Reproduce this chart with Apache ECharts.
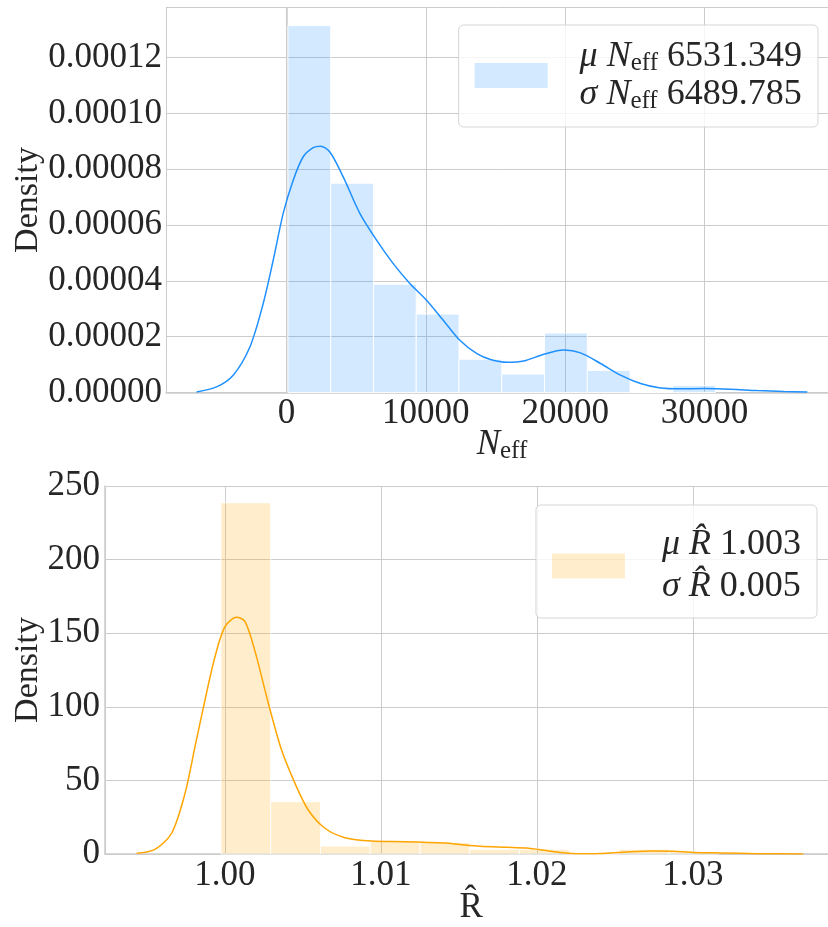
<!DOCTYPE html>
<html><head><meta charset="utf-8">
<script src="https://cdn.jsdelivr.net/npm/echarts@6/dist/echarts.min.js"></script>
<style>html,body{margin:0;padding:0;background:#fff;overflow:hidden}#c{width:828px;height:927px}</style>
</head><body><div id="c"></div>
<script>
// ---------- data ----------
const nEffBinEdges = [100, 3170, 6240, 9310, 12380, 15450, 18520, 21590, 24660, 27730, 30800];
const nEffDensity  = [0.0001315, 0.0000750, 0.0000388, 0.0000281, 0.0000119, 0.0000066, 0.0000213, 0.0000079, 0, 0.0000025];
const nEffKdeX = [-6461, -5025, -3829, -2632, -1675, -957, -239, 479, 1196, 1915, 2441, 3110, 4068, 5263, 6461, 7660, 8852, 10050, 11249, 12441, 13640, 14645, 15843, 17035, 18471, 19907, 21106, 22542, 23977, 25413, 26849, 28285, 29957, 31874, 33790, 35700, 37380];
const nEffKdeY = [0.0000002, 0.000002, 0.0000062, 0.0000163, 0.0000319, 0.0000474, 0.0000642, 0.0000761, 0.0000845, 0.0000878, 0.0000883, 0.0000862, 0.0000773, 0.0000642, 0.0000546, 0.0000462, 0.0000391, 0.0000331, 0.0000259, 0.0000187, 0.0000140, 0.0000118, 0.0000108, 0.0000113, 0.0000137, 0.0000152, 0.0000142, 0.0000104, 0.0000062, 0.0000032, 0.0000016, 0.0000013, 0.0000014, 0.0000012, 0.0000007, 0.0000004, 0.0000002];
const nEffLegendValues = ['6531.349', '6489.785'];

const rHatBinEdges = [0.99974, 1.00293, 1.00612, 1.00931, 1.0125, 1.01569, 1.01888, 1.02207, 1.02526, 1.02845, 1.03164];
const rHatDensity  = [238.6, 35.5, 5.4, 8.5, 7.8, 3.2, 3.2, 0, 3.2, 1.5];
const rHatKdeX = [0.99434, 0.99551, 0.99658, 0.99744, 0.99808, 0.99872, 0.99936, 1.0, 1.00075, 1.00128, 1.00192, 1.00278, 1.00363, 1.00449, 1.00534, 1.00641, 1.00769, 1.0094, 1.01154, 1.0141, 1.01506, 1.01635, 1.01806, 1.01934, 1.02019, 1.02147, 1.02276, 1.02404, 1.02575, 1.02746, 1.02874, 1.03003, 1.03195, 1.03408, 1.03707];
const rHatKdeY = [0.5, 3.2, 14.1, 41.2, 72.9, 104.6, 134, 154.4, 160.8, 158.0, 138.0, 102.4, 70.6, 48, 29.9, 17.5, 11.1, 8.8, 8.4, 7.4, 6.4, 5.2, 4.6, 4.1, 2.9, 1.1, 0.2, 0.4, 1.4, 2.0, 1.8, 1.1, 0.7, 0.2, 0.0];
const rHatLegendValues = ['1.003', '0.005'];

// ---------- styling ----------
const FONT = '"Liberation Serif", "DejaVu Serif", serif';
const TXT = '#262626';
const GRIDC = '#cccccc';
const BLUE = '#1e90ff', BLUE_FILL = 'rgba(30,144,255,0.2)';
const ORANGE = '#ffa500', ORANGE_FILL = 'rgba(255,165,0,0.2)';

function histSeries(name, edges, dens, fill, idx) {
  return {
    type: 'custom', name: name, xAxisIndex: idx, yAxisIndex: idx,
    itemStyle: { color: fill },
    data: dens.map((d, i) => [edges[i], edges[i + 1], d]),
    encode: { x: [0, 1], y: 2 },
    z: 2,
    renderItem: function (params, api) {
      const p0 = api.coord([api.value(0), api.value(2)]);
      const p1 = api.coord([api.value(1), 0]);
      return {
        type: 'rect',
        shape: { x: p0[0], y: p0[1], width: p1[0] - p0[0], height: p1[1] - p0[1] },
        style: { fill: fill, stroke: 'rgba(255,255,255,0.9)', lineWidth: 1 }
      };
    }
  };
}
function kdeSeries(xs, ys, color, idx) {
  return {
    type: 'line', xAxisIndex: idx, yAxisIndex: idx, name: 'kde' + idx,
    data: xs.map((x, i) => [x, ys[i]]),
    showSymbol: false, smooth: 0.3, z: 3,
    lineStyle: { color: color, width: 1.5 }, itemStyle: { color: color },
    silent: true
  };
}
const labelBase = { fontFamily: FONT, fontSize: 35, color: TXT };
const rich = {
  i: { fontFamily: FONT, fontStyle: 'italic', fontSize: 36, color: TXT, lineHeight: 38 },
  t: { fontFamily: FONT, fontSize: 36, color: TXT, lineHeight: 38 },
  s: { fontFamily: FONT, fontSize: 25, color: TXT, lineHeight: 38, padding: [14, 0, 0, 0] }
};
const rich2 = {
  i: { fontFamily: FONT, fontStyle: 'italic', fontSize: 36, color: TXT, lineHeight: 42 },
  t: { fontFamily: FONT, fontSize: 36, color: TXT, lineHeight: 42 }
};

function legendBox(seriesName, fill, top, rightPad, pad, formatter, richStyles, textPadLeft) {
  return {
    data: [{ name: seriesName, icon: 'rect', itemStyle: { color: fill, borderWidth: 0 } }],
    top: top, right: rightPad,
    itemWidth: 73, itemHeight: 25,
    padding: pad,
    backgroundColor: 'rgba(255,255,255,0.8)',
    borderColor: 'rgba(204,204,204,0.8)', borderWidth: 1, borderRadius: 5,
    selectedMode: false,
    formatter: formatter,
    textStyle: { fontFamily: FONT, fontSize: 36, color: TXT, padding: [0, 0, 0, textPadLeft], rich: richStyles }
  };
}
const spine = { show: true, lineStyle: { color: GRIDC, width: 1.5 } };

const chart = echarts.init(document.getElementById('c'), null, { renderer: 'canvas' });
chart.setOption({
  animation: false,
  backgroundColor: '#fff',
  grid: [
    { left: 166, top: 7.5, width: 672, height: 385, show: false, outerBoundsMode: 'none', containLabel: false },
    { left: 105, top: 486, width: 732.4, height: 368, show: false, outerBoundsMode: 'none', containLabel: false }
  ],
  xAxis: [
    { type: 'value', gridIndex: 0, min: -8653, max: 39588, splitNumber: 5,
      axisLine: spine, axisTick: { show: false },
      axisLabel: Object.assign({ margin: 4, showMinLabel: false, showMaxLabel: false,
        formatter: v => (Math.abs(v % 10000) < 1e-6 ? String(Math.round(v)) : '') }, labelBase),
      splitLine: { show: true, lineStyle: { color: GRIDC, width: 1 } },
      name: '{n|N}{s|eff}', nameLocation: 'middle', nameGap: 33, nameMoveOverlap: false,
      nameTextStyle: { rich: {
        n: { fontFamily: FONT, fontStyle: 'italic', fontSize: 35, color: TXT, lineHeight: 38 },
        s: { fontFamily: FONT, fontSize: 25, color: TXT, lineHeight: 38, padding: [14, 0, 0, 0] } } } },
    { type: 'value', gridIndex: 1, min: 0.99231, max: 1.03926, splitNumber: 5,
      axisLine: spine, axisTick: { show: false },
      axisLabel: Object.assign({ margin: 4, showMinLabel: false, showMaxLabel: false,
        formatter: v => v.toFixed(2) }, labelBase),
      splitLine: { show: true, lineStyle: { color: GRIDC, width: 1 } },
      name: 'R\u0302', nameLocation: 'middle', nameGap: 36, nameMoveOverlap: false,
      nameTextStyle: { fontFamily: FONT, fontSize: 35, color: TXT } }
  ],
  yAxis: [
    { type: 'value', gridIndex: 0, min: 0, max: 0.000138, interval: 0.00002,
      axisLine: spine, axisTick: { show: false },
      axisLabel: Object.assign({ margin: 4, showMaxLabel: false, formatter: v => v.toFixed(5) }, labelBase),
      splitLine: { show: true, lineStyle: { color: GRIDC, width: 1 } },
      name: 'Density', nameLocation: 'middle', nameGap: 121, nameMoveOverlap: false,
      nameTextStyle: { fontFamily: FONT, fontSize: 34, color: TXT } },
    { type: 'value', gridIndex: 1, min: 0, max: 250, interval: 50,
      axisLine: spine, axisTick: { show: false },
      axisLabel: Object.assign({ margin: 5 }, labelBase),
      splitLine: { show: true, lineStyle: { color: GRIDC, width: 1 } },
      name: 'Density', nameLocation: 'middle', nameGap: 60, nameMoveOverlap: false,
      nameTextStyle: { fontFamily: FONT, fontSize: 34, color: TXT } }
  ],
  legend: [
    legendBox('neff', BLUE_FILL, 25, 10, [12, 16, 13, 16],
      () => '{i|μ} {i|N}{s|eff} {t|' + nEffLegendValues[0] + '}\n{i|σ} {i|N}{s|eff} {t|' + nEffLegendValues[1] + '}', rich, 27),
    legendBox('rhat', ORANGE_FILL, 505, 11, [22, 16, 13, 16],
      () => '{i|μ} {i|R\u0302} {t|' + rHatLegendValues[0] + '}\n{i|σ} {i|R\u0302} {t|' + rHatLegendValues[1] + '}', rich2, 32)
  ],
  series: [
    histSeries('neff', nEffBinEdges, nEffDensity, BLUE_FILL, 0),
    kdeSeries(nEffKdeX, nEffKdeY, BLUE, 0),
    histSeries('rhat', rHatBinEdges, rHatDensity, ORANGE_FILL, 1),
    kdeSeries(rHatKdeX, rHatKdeY, ORANGE, 1)
  ]
});
</script></body></html>
